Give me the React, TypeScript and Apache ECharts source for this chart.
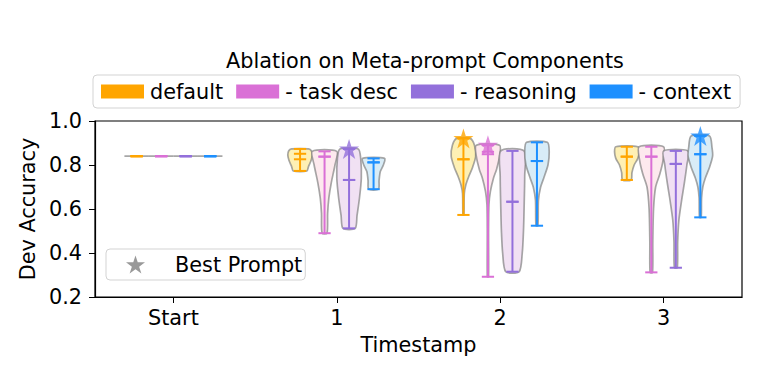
import React, { useEffect, useRef } from "react";
import * as echarts from "echarts";

const timestamps = ["Start", "1", "2", "3"];
const variants = ["default", "- task desc", "- reasoning", "- context"];
const lineColors = ["#FFA500", "#DA70D6", "#9370DB", "#1E90FF"];
const fillColors = ["#FEF0B4", "#FDE9EE", "#F1E1F3", "#D8ECF7"];
const offsets = [-0.225, -0.075, 0.075, 0.225];

// per variant, per timestamp
const mins = [
  [0.84, 0.773, 0.573, 0.732],
  [0.84, 0.49, 0.292, 0.312],
  [0.84, 0.512, 0.315, 0.333],
  [0.84, 0.69, 0.524, 0.562],
];
const maxs = [
  [0.84, 0.873, 0.921, 0.883],
  [0.84, 0.862, 0.89, 0.883],
  [0.84, 0.873, 0.864, 0.864],
  [0.84, 0.83, 0.903, 0.932],
];
const means = [
  [0.84, 0.826, 0.826, 0.838],
  [0.84, 0.838, 0.849, 0.838],
  [0.84, 0.732, 0.633, 0.805],
  [0.84, 0.812, 0.818, 0.849],
];
const medians = [
  [0.84, 0.851, 0.826, 0.838],
  [0.84, 0.838, 0.86, 0.838],
  [0.84, 0.732, 0.633, 0.805],
  [0.84, 0.812, 0.818, 0.849],
];

// violin outlines: [value, relative width]
const defaultShape = [
  [[0.84, 1], [0.84, 1]],
  [[0.873, 0.7], [0.865, 0.92], [0.845, 1.0], [0.82, 0.9], [0.795, 0.7], [0.773, 0.55]],
  [[0.921, 0.55], [0.89, 0.9], [0.84, 1.0], [0.79, 0.75], [0.75, 0.45], [0.71, 0.2], [0.67, 0.07], [0.573, 0.04]],
  [[0.883, 0.9], [0.86, 1.0], [0.83, 0.9], [0.8, 0.6], [0.765, 0.42], [0.732, 0.35]],
];
const taskDescShape = [
  [[0.84, 1], [0.84, 1]],
  [[0.862, 1.0], [0.8, 0.85], [0.72, 0.55], [0.65, 0.35], [0.58, 0.25], [0.49, 0.2]],
  [[0.89, 0.95], [0.84, 0.95], [0.78, 0.7], [0.74, 0.45], [0.68, 0.2], [0.62, 0.08], [0.5, 0.05], [0.292, 0.05]],
  [[0.883, 1.0], [0.82, 0.95], [0.76, 0.7], [0.7, 0.35], [0.6, 0.18], [0.45, 0.12], [0.312, 0.1]],
];
const reasoningShape = [
  [[0.84, 1], [0.84, 1]],
  [[0.873, 0.75], [0.83, 0.95], [0.74, 1.0], [0.65, 0.85], [0.57, 0.65], [0.512, 0.5]],
  [[0.864, 0.95], [0.75, 1.0], [0.6, 0.95], [0.5, 0.9], [0.4, 0.8], [0.315, 0.55]],
  [[0.864, 1.0], [0.8, 0.9], [0.72, 0.7], [0.65, 0.5], [0.55, 0.25], [0.45, 0.15], [0.333, 0.12]],
];
const contextShape = [
  [[0.84, 1], [0.84, 1]],
  [[0.83, 0.9], [0.8, 0.8], [0.77, 0.55], [0.73, 0.45], [0.69, 0.4]],
  [[0.903, 0.85], [0.86, 1.0], [0.8, 0.9], [0.74, 0.55], [0.7, 0.3], [0.64, 0.12], [0.524, 0.08]],
  [[0.932, 0.75], [0.88, 0.95], [0.84, 1.0], [0.79, 0.75], [0.74, 0.4], [0.7, 0.2], [0.65, 0.1], [0.562, 0.07]],
];
const shapes = [defaultShape, taskDescShape, reasoningShape, contextShape];

// best prompts: [timestamp index, variant index, value]
const bestPrompts = [
  [1, 2, 0.873],
  [2, 0, 0.921],
  [2, 1, 0.89],
  [3, 3, 0.932],
];

const violinWidth = 0.15;
const starPath =
  "path://M50,0 L61.2,34.5 L97.6,34.5 L68.2,55.9 L79.4,90.5 L50,69.1 L20.6,90.5 L31.8,55.9 L2.4,34.5 L38.8,34.5 Z";
const font = "DejaVu Sans";
const fs = 20.8;

export default function App() {
  const ref = useRef<HTMLDivElement>(null);
  useEffect(() => {
    if (!ref.current) return;
    const chart = echarts.init(ref.current, null, { renderer: "svg" });

    const violinSeries = variants.map((name, v) => ({
      type: "custom",
      name,
      coordinateSystem: "cartesian2d",
      itemStyle: { color: lineColors[v] },
      z: 2,
      data: timestamps.map((_, i) => [i + offsets[v], mins[v][i], maxs[v][i]]),
      encode: { x: 0, y: [1, 2] },
      renderItem: (params: any, api: any) => {
        const i = params.dataIndex;
        const cx = i + offsets[v];
        const half = violinWidth / 2;
        const prof = shapes[v][i];
        const right = prof.map(([val, w]) => api.coord([cx + half * w, val]));
        const left = prof
          .slice()
          .reverse()
          .map(([val, w]) => api.coord([cx - half * w, val]));
        const capHalf = violinWidth / 4;
        const hline = (val: number) => {
          const a = api.coord([cx - capHalf, val]);
          const b = api.coord([cx + capHalf, val]);
          return {
            type: "line",
            shape: { x1: a[0], y1: a[1], x2: b[0], y2: b[1] },
            style: { stroke: lineColors[v], lineWidth: 2 },
            z2: 3,
          };
        };
        const top = api.coord([cx, maxs[v][i]]);
        const bot = api.coord([cx, mins[v][i]]);
        return {
          type: "group",
          children: [
            {
              type: "polygon",
              shape: { points: right.concat(left), smooth: 0.25 },
              style: {
                fill: fillColors[v],
                stroke: "rgba(120,120,120,0.65)",
                lineWidth: 1.7,
              },
              z2: 1,
            },
            {
              type: "line",
              shape: { x1: top[0], y1: top[1], x2: bot[0], y2: bot[1] },
              style: { stroke: lineColors[v], lineWidth: 2 },
              z2: 2,
            },
            hline(maxs[v][i]),
            hline(mins[v][i]),
            hline(means[v][i]),
            hline(medians[v][i]),
          ],
        };
      },
    }));

    const option: any = {
      animation: false,
      title: {
        text: "Ablation on Meta-prompt Components",
        left: 420,
        top: 45,
        textAlign: "center",
        textStyle: { fontFamily: font, fontSize: fs, fontWeight: "normal", color: "#000" },
      },
      legend: [
        {
          data: variants.map((name) => ({ name, icon: "rect" })),
          left: 93,
          top: 75,
          padding: [6, 9, 6, 8],
          itemWidth: 43,
          itemHeight: 14,
          itemGap: 13,
          borderColor: "#d3d3d3",
          borderWidth: 1,
          borderRadius: 4,
          backgroundColor: "#fff",
          selectedMode: false,
          textStyle: { fontFamily: font, fontSize: fs, color: "#000", padding: [0, 0, 0, 1] },
        },
        {
          data: [{ name: "Best Prompt", icon: starPath, itemStyle: { color: "#808080" } }],
          left: 106,
          top: 249,
          padding: [5, 3, 5, 20],
          itemWidth: 19,
          itemHeight: 19,
          borderColor: "#d3d3d3",
          borderWidth: 1,
          borderRadius: 4,
          backgroundColor: "#fff",
          selectedMode: false,
          textStyle: { fontFamily: font, fontSize: fs, color: "#000", padding: [0, 0, 0, 25] },
        },
      ],
      grid: {
        left: 95,
        right: 19,
        top: 121,
        bottom: 84,
        show: true,
        borderColor: "#000",
        borderWidth: 1.2,
        backgroundColor: "transparent",
      },
      xAxis: {
        type: "value",
        min: -0.48,
        max: 3.48,
        splitLine: { show: false },
        axisLine: { show: true, onZero: false, lineStyle: { color: "#000", width: 1.2 } },
        axisTick: { show: true, customValues: [0, 1, 2, 3], length: 6, lineStyle: { color: "#000" } },
        axisLabel: {
          customValues: [0, 1, 2, 3],
          formatter: (val: number) => timestamps[Math.round(val)],
          fontFamily: font,
          fontSize: fs,
          color: "#000",
          margin: 10,
        },
        name: "Timestamp",
        nameLocation: "middle",
        nameGap: 37,
        nameTextStyle: { fontFamily: font, fontSize: fs, color: "#000" },
      },
      yAxis: {
        type: "value",
        min: 0.2,
        max: 1.0,
        interval: 0.2,
        splitLine: { show: false },
        axisLine: { show: true, onZero: false, lineStyle: { color: "#000", width: 1.2 } },
        axisTick: { show: true, length: 6, lineStyle: { color: "#000" } },
        axisLabel: {
          formatter: (val: number) => val.toFixed(1),
          fontFamily: font,
          fontSize: fs,
          color: "#000",
          margin: 13,
        },
        name: "Dev Accuracy",
        nameLocation: "middle",
        nameGap: 42,
        nameTextStyle: { fontFamily: font, fontSize: fs, color: "#000" },
      },
      series: [
        ...violinSeries,
        {
          type: "scatter",
          name: "Best Prompt",
          symbol: starPath,
          symbolSize: 20,
          itemStyle: { color: "#808080" },
          z: 5,
          data: bestPrompts.map(([t, v, val]) => ({
            value: [t + offsets[v], val],
            itemStyle: { color: lineColors[v] },
          })),
        },
      ],
    };
    chart.setOption(option);
    return () => chart.dispose();
  }, []);
  return (
    <div
      ref={ref}
      style={{ position: "fixed", left: 0, top: 0, width: 761, height: 381, background: "#fff" }}
    />
  );
}
